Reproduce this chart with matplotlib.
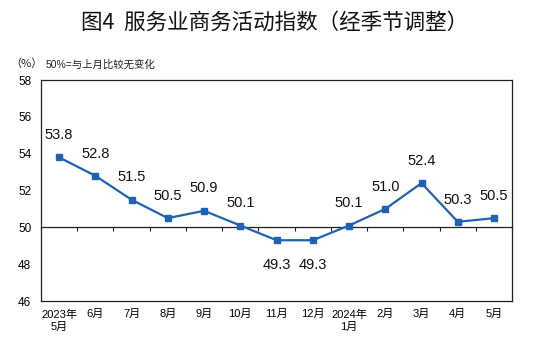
import matplotlib
matplotlib.use("Agg")
import matplotlib.pyplot as plt
import numpy as np

plt.rcParams["font.family"] = ["Liberation Sans", "Noto Sans CJK SC"]

months = ["2023年\n5月", "6月", "7月", "8月", "9月", "10月", "11月", "12月",
          "2024年\n1月", "2月", "3月", "4月", "5月"]
index_vals = [53.8, 52.8, 51.5, 50.5, 50.9, 50.1, 49.3, 49.3,
              50.1, 51.0, 52.4, 50.3, 50.5]
y_ticks = [46, 48, 50, 52, 54, 56, 58]

LINE_COLOR = "#1F62B4"

fig = plt.figure(figsize=(5.53, 3.43), dpi=100)
ax = fig.add_axes([0.0741, 0.1224, 0.852, 0.6443])

x = np.arange(len(months))
ax.plot(x, index_vals, color=LINE_COLOR, lw=1.6, marker="s", ms=4.2,
        zorder=3)

for xi, v in zip(x, index_vals):
    if v < 50:
        off, va = -13, "top"
    else:
        off, va = 11, "bottom"
    ax.annotate(f"{v:.1f}", (xi, v), xytext=(0, off), textcoords="offset points",
                ha="center", va=va, fontsize=10.5, color="#111111")

ax.set_xlim(-0.5, len(months) - 0.5)
ax.set_ylim(46, 58)
ax.set_yticks(y_ticks)
ax.tick_params(axis="y", length=0, pad=7, labelsize=8.5)
ax.set_xticks(x)
ax.set_xticklabels(months, fontsize=8, linespacing=1.3)
ax.tick_params(axis="x", length=0, pad=6)
for sp in ax.spines.values():
    sp.set_color("#222222")
    sp.set_linewidth(0.9)

# 50 baseline with category separators
base = ax.secondary_xaxis((50 - 46) / (58 - 46))
base.set_xticks(np.arange(len(months) + 1) - 0.5)
base.set_xticklabels([])
base.tick_params(axis="x", direction="out", length=3, width=0.8, color="#222222")
base.spines["bottom"].set_color("#222222")
base.spines["bottom"].set_linewidth(0.9)

fig.text(0.497, 0.935, "图4  服务业商务活动指数（经季节调整）", ha="center", va="center",
         fontsize=15.5, family=["Noto Sans CJK SC"], weight="medium", color="#111111")
fig.text(0.018, 0.813, "（%）", ha="left", va="center", fontsize=8,
         family=["Noto Sans CJK SC"], color="#222222")
fig.text(0.083, 0.813, "50%=与上月比较无变化", ha="left", va="center", fontsize=7.5,
         color="#222222")

fig.savefig("out.png", dpi=100)
